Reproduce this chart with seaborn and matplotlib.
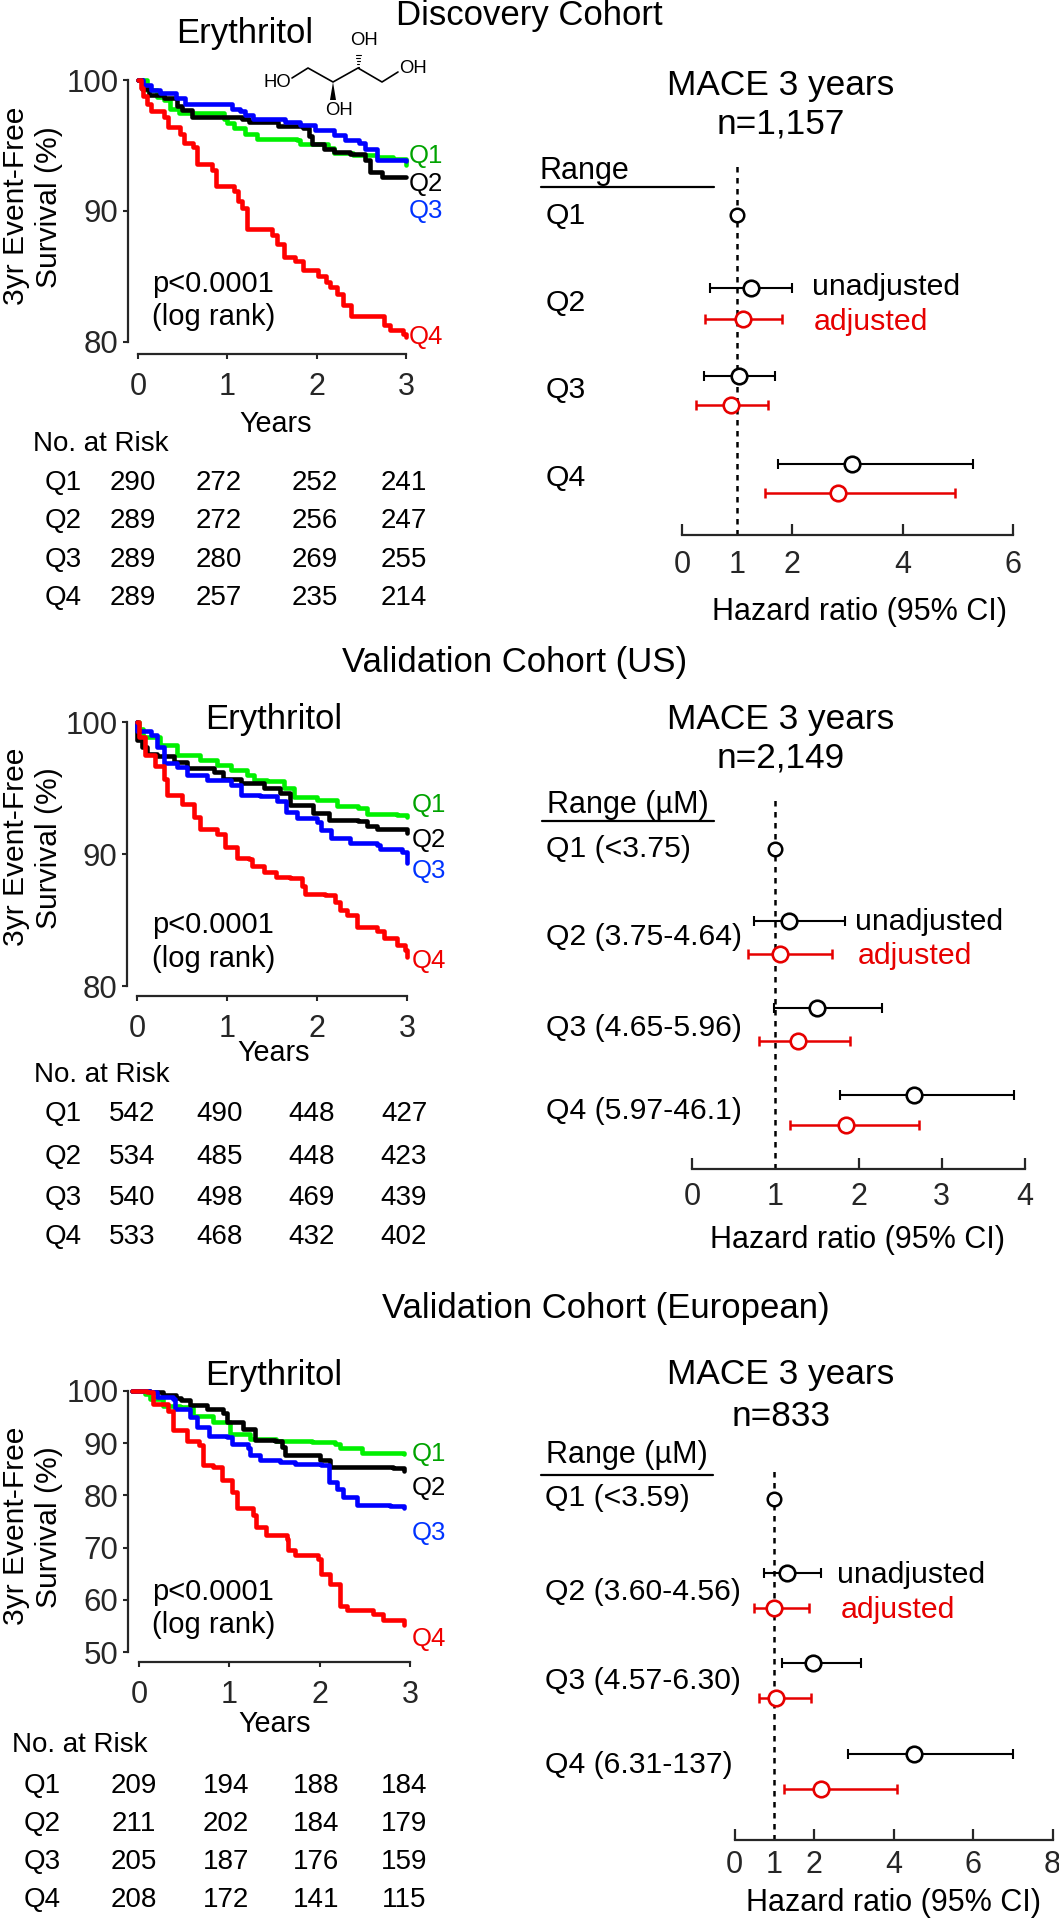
import pandas as pd
import matplotlib
matplotlib.use("Agg")
import matplotlib.pyplot as plt
import seaborn as sns

sns.set_style("ticks")
plt.rcParams["font.family"] = ["Liberation Sans", "DejaVu Sans"]

W, H = 1059, 1920
quartiles = ["Q1", "Q2", "Q3", "Q4"]
line_colors = {"Q1": "#00F000", "Q2": "#000000", "Q3": "#0000FF", "Q4": "#FF0000"}
label_colors = {"Q1": "#00A300", "Q2": "#000000", "Q3": "#0033FF", "Q4": "#F00000"}
FOREST_RED = "#E60000"

# Discovery cohort survival curves
d_t_q1 = [0, .10, .21, .29, .36, .455, .96, 1.0, 1.07, 1.20, 1.33, 1.78, 1.815, 2.13, 2.19, 2.41, 2.67, 2.86, 3.0]
d_s_q1 = [100, 99.2, 98.7, 98.5, 97.8, 97.5, 97.0, 96.7, 96.3, 95.9, 95.5, 95.4, 95.1, 94.8, 94.4, 94.3, 94.15, 93.95, 93.5]
d_t_q2 = [0, .05, .12, .29, .44, .49, .60, 1.16, 1.24, 1.57, 1.85, 1.91, 1.945, 2.08, 2.19, 2.37, 2.54, 2.60, 2.73, 3.0]
d_s_q2 = [100, 99.3, 98.85, 98.6, 98.0, 97.7, 97.2, 97.0, 96.8, 96.5, 96.3, 95.7, 95.1, 94.7, 94.5, 94.35, 93.9, 93.0, 92.6, 92.6]
d_t_q3 = [0, .06, .14, .25, .42, .53, 1.05, 1.14, 1.20, 1.29, 1.65, 1.815, 1.98, 2.19, 2.32, 2.47, 2.54, 2.67, 3.0]
d_s_q3 = [100, 99.6, 99.2, 99.0, 98.6, 98.2, 97.8, 97.6, 97.3, 97.0, 96.8, 96.6, 96.2, 95.8, 95.4, 95.2, 94.7, 93.9, 93.85]
d_t_q4 = [0, .03, .06, .10, .14, .29, .34, .47, .51, .62, .66, .83, .87, 1.07, 1.12, 1.16, 1.22, 1.50, 1.56, 1.63, 1.76, 1.85, 2.02, 2.10, 2.15, 2.23, 2.30, 2.38, 2.75, 2.82, 2.97, 3.0]
d_s_q4 = [100, 99.4, 98.8, 98.2, 97.6, 97.2, 96.4, 95.9, 95.2, 94.9, 93.6, 93.1, 91.9, 91.5, 90.8, 90.2, 88.6, 88.2, 87.5, 86.5, 86.2, 85.5, 85.0, 84.6, 84.2, 83.7, 82.8, 82.0, 81.3, 80.9, 80.6, 80.4]

# Validation cohort (US) survival curves
u_t_q1 = [0, .02, .07, .26, .44, .70, .89, 1.04, 1.22, 1.30, 1.44, 1.63, 1.74, 2.0, 2.22, 2.46, 2.56, 2.89, 3.0]
u_s_q1 = [100, 99.5, 98.9, 98.25, 97.5, 97.1, 96.75, 96.35, 96.0, 95.6, 95.5, 95.0, 94.3, 94.1, 93.6, 93.45, 93.0, 92.95, 92.8]
u_t_q2 = [0, .005, .06, .11, .22, .41, .56, .85, .96, 1.15, 1.41, 1.59, 1.70, 1.96, 2.13, 2.46, 2.56, 2.67, 3.0]
u_s_q2 = [100, 98.6, 98.1, 97.6, 97.4, 97.0, 96.5, 96.2, 95.7, 95.35, 95.0, 94.6, 93.7, 93.1, 92.6, 92.5, 92.1, 91.9, 91.6]
u_t_q3 = [0, .005, .15, .22, .30, .44, .56, .78, 1.04, 1.15, 1.37, 1.56, 1.65, 1.78, 2.0, 2.04, 2.15, 2.37, 2.67, 2.70, 2.94, 3.0]
u_s_q3 = [100, 99.3, 99.0, 98.1, 96.9, 96.6, 96.0, 95.6, 95.2, 94.5, 94.4, 94.0, 93.2, 92.7, 92.4, 91.8, 91.25, 90.85, 90.7, 90.4, 90.15, 89.3]
u_t_q4 = [0, .02, .09, .20, .30, .33, .50, .63, .70, .89, .98, 1.11, 1.24, 1.28, 1.41, 1.54, 1.70, 1.83, 1.87, 2.09, 2.20, 2.26, 2.33, 2.44, 2.67, 2.74, 2.89, 2.98, 3.0]
u_s_q4 = [100, 98.9, 97.5, 96.7, 95.7, 94.5, 93.8, 92.8, 91.9, 91.55, 90.5, 89.7, 89.65, 89.1, 88.65, 88.25, 88.15, 87.6, 87.0, 86.9, 86.4, 85.75, 85.4, 84.5, 84.2, 83.6, 83.1, 82.7, 82.2]

# Validation cohort (European) survival curves
e_t_q1 = [-.08, .066, .12, .27, .45, .60, .82, 1.01, 1.23, 1.52, 1.91, 2.17, 2.225, 2.43, 2.465, 2.93]
e_s_q1 = [100, 99.5, 98.5, 97.1, 96.9, 95.3, 94.1, 91.8, 90.9, 90.4, 90.2, 89.8, 89.1, 89.0, 88.1, 88.0]
e_t_q2 = [-.08, .12, .27, .41, .47, .565, .75, .93, .97, 1.155, 1.28, 1.505, 1.58, 1.62, 2.0, 2.11, 2.815, 2.93]
e_s_q2 = [100, 99.9, 99.2, 98.7, 98.2, 97.25, 96.6, 95.85, 94.1, 92.8, 90.7, 90.5, 89.3, 87.7, 86.85, 85.4, 85.3, 84.7]
e_t_q3 = [-.08, .12, .195, .38, .40, .565, .64, .77, .97, 1.03, 1.21, 1.23, 1.34, 1.56, 1.73, 2.02, 2.10, 2.19, 2.26, 2.41, 2.78, 2.93]
e_s_q3 = [100, 99.9, 98.85, 98.5, 96.6, 95.0, 93.1, 91.3, 91.1, 89.8, 89.1, 87.7, 86.85, 86.4, 85.95, 85.9, 82.6, 81.3, 79.7, 78.1, 77.9, 77.5]
e_t_q4 = [-.08, .085, .16, .325, .38, .53, .66, .71, .82, .915, 1.03, 1.08, 1.265, 1.30, 1.41, 1.635, 1.65, 1.73, 1.985, 2.02, 2.115, 2.225, 2.30, 2.595, 2.705, 2.93]
e_s_q4 = [100, 99.8, 97.6, 96.2, 92.5, 90.5, 89.6, 85.8, 85.4, 82.9, 80.65, 77.5, 76.2, 74.0, 72.35, 71.6, 69.5, 68.5, 67.9, 65.0, 63.1, 58.9, 58.1, 57.3, 56.2, 55.1]

# Numbers at risk
d_risk = [[290, 272, 252, 241], [289, 272, 256, 247], [289, 280, 269, 255], [289, 257, 235, 214]]
u_risk = [[542, 490, 448, 427], [534, 485, 448, 423], [540, 498, 469, 439], [533, 468, 432, 402]]
e_risk = [[209, 194, 188, 184], [211, 202, 184, 179], [205, 187, 176, 159], [208, 172, 141, 115]]

# Hazard ratios (Q2-Q4), Q1 is the reference at 1
d_hr_un, d_lo_un, d_hi_un = [1.25, 1.03, 3.09], [0.51, 0.40, 1.74], [1.99, 1.69, 5.28]
d_hr_ad, d_lo_ad, d_hi_ad = [1.11, 0.88, 2.83], [0.42, 0.25, 1.51], [1.81, 1.56, 4.95]
u_hr_un, u_lo_un, u_hi_un = [1.16, 1.50, 2.66], [0.74, 0.985, 1.775], [1.84, 2.28, 3.87]
u_hr_ad, u_lo_ad, u_hi_ad = [1.05, 1.27, 1.85], [0.67, 0.80, 1.18], [1.675, 1.90, 2.73]
e_hr_un, e_lo_un, e_hi_un = [1.31, 1.97, 4.51], [0.745, 1.19, 2.85], [2.18, 3.19, 7.01]
e_hr_ad, e_lo_ad, e_hi_ad = [0.99, 1.03, 2.17], [0.49, 0.61, 1.24], [1.88, 1.91, 4.08]

d_ranges = ["Q1", "Q2", "Q3", "Q4"]
u_ranges = ["Q1 (<3.75)", "Q2 (3.75-4.64)", "Q3 (4.65-5.96)", "Q4 (5.97-46.1)"]
e_ranges = ["Q1 (<3.59)", "Q2 (3.60-4.56)", "Q3 (4.57-6.30)", "Q4 (6.31-137)"]

fig = plt.figure(figsize=(W / 100, H / 100), dpi=100, facecolor="white")


def axes_px(left, right, top, bottom):
    return fig.add_axes([left / W, 1 - bottom / H, (right - left) / W, (bottom - top) / H])


# full page axes in pixels for the text and the molecule
page = axes_px(0, W, 0, H)
page.set_xlim(0, W)
page.set_ylim(H, 0)
page.axis("off")
page.set_zorder(5)
page.patch.set_alpha(0)


def put(x, y, s, size=21, color="black", ha="left", rotation=0):
    page.text(x, y, s, fontsize=size, color=color, ha=ha, va="baseline",
              rotation=rotation, rotation_mode="anchor")


def km_panel(curves, yticks, x0, x3, y_top, y_low, axis_y, spine_x=128):
    per_year = (x3 - x0) / 3
    per_unit = (y_low - y_top) / (yticks[-1] - yticks[0])
    ax = axes_px(spine_x, x3, y_top, axis_y)
    rows = []
    for q, (t, s) in zip(quartiles, curves):
        rows.append(pd.DataFrame({"t": t, "s": s, "curve": q}))
    df = pd.concat(rows)
    sns.lineplot(data=df, x="t", y="s", hue="curve", palette=line_colors, estimator=None,
                 drawstyle="steps-post", linewidth=3.3, legend=False, clip_on=False, ax=ax)
    ax.set_xlim((spine_x - x0) / per_year, 3)
    ax.set_ylim(yticks[0] - (axis_y - y_low) / per_unit, yticks[-1])
    ax.set_xticks([0, 1, 2, 3])
    ax.set_yticks(yticks)
    ax.set_xlabel("")
    ax.set_ylabel("")
    ax.tick_params(axis="x", labelsize=22, length=3.8, width=1.5, pad=9.5)
    ax.tick_params(axis="y", labelsize=22.5, length=3.8, width=1.5, pad=3)
    ax.spines["top"].set_visible(False)
    ax.spines["right"].set_visible(False)
    ax.spines["left"].set_bounds(yticks[0], yticks[-1])
    ax.spines["bottom"].set_bounds(0, 3)
    ax.spines["left"].set_linewidth(1.6)
    ax.spines["bottom"].set_linewidth(1.6)
    ax.patch.set_alpha(0)
    return ax


def forest_panel(un, ad, xticks, x0, x_end, dash_top, axis_y, row_y, pad):
    ax = axes_px(x0, x_end, dash_top, axis_y)
    ax.set_xlim(xticks[0], xticks[-1])
    ax.set_ylim(axis_y, dash_top)
    ax.axvline(1, color="black", lw=1.8, ls=(0, (2.2, 2.2)), zorder=1)
    for (hr, lo, hi), ys, col, lw in ((un, row_y[1::2], "black", 1.5), (ad, row_y[2::2], FOREST_RED, 1.8)):
        err = [[h - l for h, l in zip(hr, lo)], [u - h for h, u in zip(hr, hi)]]
        ax.errorbar(hr, ys, xerr=err, fmt="none", ecolor=col, elinewidth=lw,
                    capsize=3.6, capthick=lw, zorder=2)
        sns.scatterplot(x=hr, y=ys, s=125, facecolor="white", edgecolor=col, linewidth=1.9,
                        zorder=3, clip_on=False, ax=ax)
    sns.scatterplot(x=[1], y=row_y[:1], s=95, facecolor="white", edgecolor="black", linewidth=1.8,
                    zorder=3, clip_on=False, ax=ax)
    ax.set_yticks([])
    ax.set_xticks(xticks)
    ax.tick_params(axis="x", direction="in", labelsize=22, length=8, width=1.6, pad=pad)
    # the 1 is labelled on the axis but has no tick mark
    ax.xaxis.get_major_ticks()[1].tick1line.set_visible(False)
    for side in ("top", "right", "left"):
        ax.spines[side].set_visible(False)
    ax.spines["bottom"].set_linewidth(1.6)
    ax.patch.set_alpha(0)
    return ax


def risk_table(risk, title_x, title_y, q_right, num_x, row_y):
    put(title_x, title_y, "No. at Risk", 20)
    for q, vals, y in zip(quartiles, risk, row_y):
        put(q_right, y, q, 20, ha="right")
        for v, x in zip(vals, num_x):
            put(x, y, str(v), 20, ha="center")


def km_text(q_y, p_y, years_x, years_y, ery_x, ery_y, q_x, lab_y):
    put(ery_x, ery_y, "Erythritol", 25, ha="center")
    for q, y in zip(quartiles, q_y):
        put(q_x, y, q, 18.5, label_colors[q])
    put(152, p_y[0], "p<0.0001", 21)
    put(152, p_y[1], "(log rank)", 21)
    put(years_x, years_y, "Years", 20.7, ha="center")
    put(24, lab_y, "3yr Event-Free", 21.6, ha="center", rotation=90)
    put(57, lab_y + 1, "Survival (%)", 21.6, ha="center", rotation=90)


def forest_text(mace_y, n, n_y, rng, rng_x, rng_y, line, q_x, q_y, un_xy, ad_xy, hz_x, hz_y):
    put(781, mace_y, "MACE 3 years", 25.4, ha="center")
    put(781, n_y, n, 25.4, ha="center")
    put(rng_x, rng_y, rng[0], 22)
    page.plot(line[:2], [line[2], line[2]], color="black", lw=1.6)
    for s, y in zip(rng[1], q_y):
        put(q_x, y, s, 21.7)
    put(un_xy[0], un_xy[1], "unadjusted", 21.8)
    put(ad_xy[0], ad_xy[1], "adjusted", 21.8, FOREST_RED)
    put(hz_x, hz_y, "Hazard ratio (95% CI)", 22, ha="center")


# Discovery cohort
km_panel([(d_t_q1, d_s_q1), (d_t_q2, d_s_q2), (d_t_q3, d_s_q3), (d_t_q4, d_s_q4)], [80, 90, 100], 138, 406, 80, 342, 354)
put(529, 25, "Discovery Cohort", 25, ha="center")
km_text([163, 191, 218, 344], [292, 325], 276, 432, 245, 43, 409, 206)
risk_table(d_risk, 33, 451, 82, [133, 219, 315, 404], [490, 528, 567, 605])
forest_panel((d_hr_un, d_lo_un, d_hi_un), (d_hr_ad, d_lo_ad, d_hi_ad), [0, 1, 2, 4, 6], 682, 1013, 165, 535,
             [215.5, 288, 319.5, 376, 405, 464, 493], 10.5)
forest_text(95, "n=1,157", 133, ("Range", d_ranges), 540, 179, (541, 714, 187), 546, [224, 311, 398, 486],
            (812, 295), (814, 330), 859, 620)

# Validation cohort (US)
km_panel([(u_t_q1, u_s_q1), (u_t_q2, u_s_q2), (u_t_q3, u_s_q3), (u_t_q4, u_s_q4)], [80, 90, 100], 137, 407, 722, 986, 996, spine_x=127)
put(515, 672, "Validation Cohort (US)", 25, ha="center")
km_text([812, 847, 878, 968], [933, 967], 274, 1061, 274, 729, 412, 847)
risk_table(u_risk, 34, 1082, 82, [132, 220, 312, 404], [1121, 1164, 1205, 1244])
forest_panel((u_hr_un, u_lo_un, u_hi_un), (u_hr_ad, u_lo_ad, u_hi_ad), [0, 1, 2, 3, 4], 692.3, 1025, 798, 1169,
             [848.5, 921, 954, 1007.6, 1040.7, 1094.5, 1125], 9.5)
forest_text(729.5, "n=2,149", 768, ("Range (\u00b5M)", u_ranges), 547, 813, (542, 714, 820.5), 546, [857, 945, 1036, 1119],
            (855, 930), (858, 964), 858, 1248)

# Validation cohort (European)
km_panel([(e_t_q1, e_s_q1), (e_t_q2, e_s_q2), (e_t_q3, e_s_q3), (e_t_q4, e_s_q4)], [50, 60, 70, 80, 90, 100], 139, 410, 1391, 1652, 1662)
put(606, 1318, "Validation Cohort (European)", 25, ha="center")
km_text([1461, 1495, 1540, 1646], [1600, 1633], 275, 1732, 274, 1385, 412, 1526)
risk_table(e_risk, 12, 1752, 61, [134, 226, 316, 404], [1793, 1831, 1869, 1907])
forest_panel((e_hr_un, e_lo_un, e_hi_un), (e_hr_ad, e_lo_ad, e_hi_ad), [0, 1, 2, 4, 6, 8], 734.7, 1052.5, 1467, 1840,
             [1498.5, 1573, 1607.5, 1662.6, 1698, 1754.4, 1788.6], 7.5)
forest_text(1384, "n=833", 1426, ("Range (\u00b5M)", e_ranges), 546, 1463, (541, 713, 1475), 545, [1506, 1600, 1689, 1773],
            (837, 1583), (841, 1618), 893, 1911)

# Erythritol structure drawn next to the first title
page.plot([292, 308, 333, 358, 382, 398], [78, 68, 82, 68, 82, 72], color="black", lw=1.2)
page.fill([333, 330, 336], [82, 100, 100], color="black", lw=0)
for i in range(5):
    hy = 67 - i * 3
    hw = 0.5 + i * 0.5
    page.plot([358 - hw, 358 + hw], [hy, hy], color="black", lw=0.8)
put(277, 87, "HO", 13.3, ha="center")
put(339, 115, "OH", 13.3, ha="center")
put(364, 45, "OH", 13.3, ha="center")
put(413, 73, "OH", 13.3, ha="center")

fig.savefig("out.png", dpi=100)
